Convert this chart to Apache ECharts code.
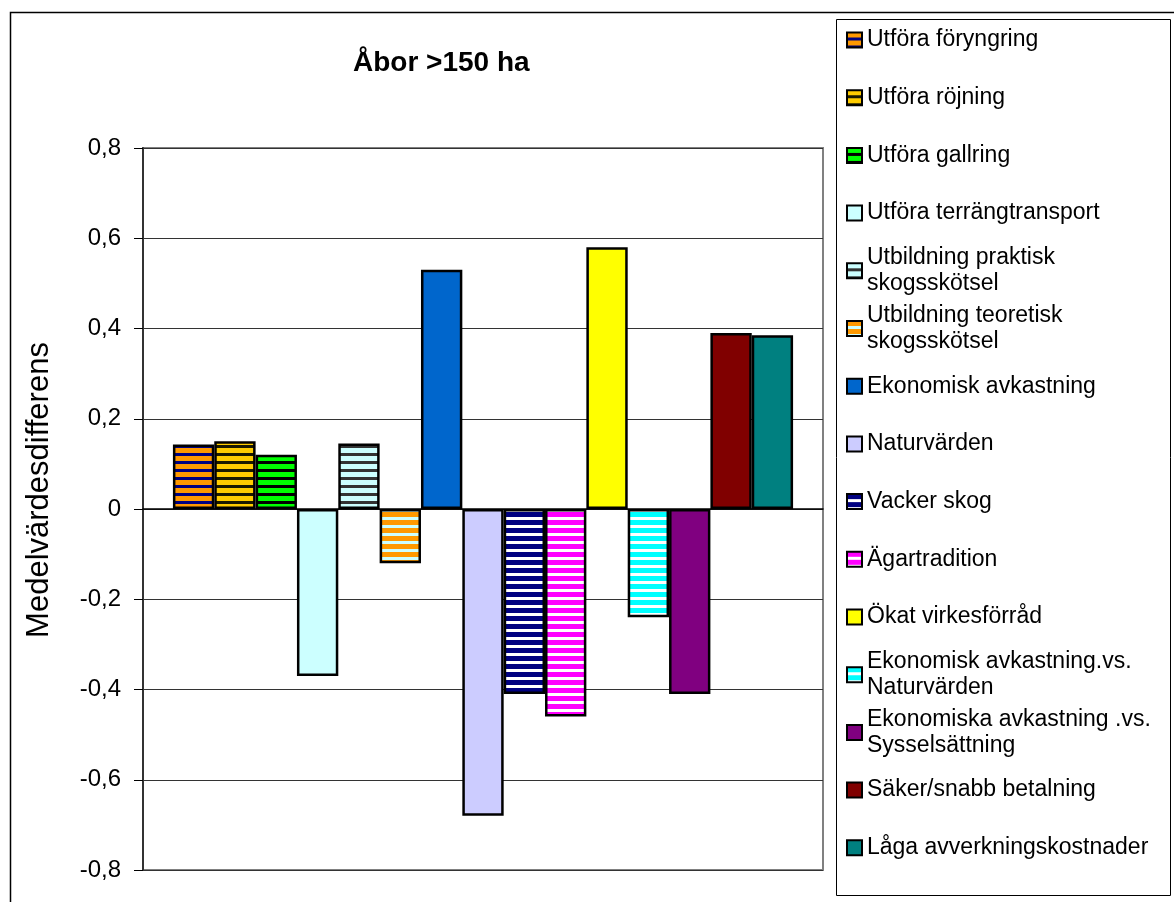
<!DOCTYPE html>
<html>
<head>
<meta charset="utf-8">
<script src="https://cdn.jsdelivr.net/npm/echarts@6/dist/echarts.min.js"></script>
<style>
  html, body { margin: 0; padding: 0; background: #fff; }
  #chart { width: 1174px; height: 902px; }
</style>
</head>
<body>
<div id="chart"></div>
<script>
// data
var categories = [''];
var seriesNames = [
  'Utföra föryngring', 'Utföra röjning', 'Utföra gallring', 'Utföra terrängtransport',
  'Utbildning praktisk\nskogsskötsel', 'Utbildning teoretisk\nskogsskötsel',
  'Ekonomisk avkastning', 'Naturvärden', 'Vacker skog', 'Ägartradition',
  'Ökat virkesförråd', 'Ekonomisk avkastning.vs.\nNaturvärden',
  'Ekonomiska avkastning .vs.\nSysselsättning', 'Säker/snabb betalning',
  'Låga avverkningskostnader'
];
var seriesValues = [0.143, 0.15, 0.12, -0.37, 0.145, -0.12, 0.53, -0.68, -0.41, -0.46, 0.58, -0.24, -0.41, 0.39, 0.385];
var yTicks = [-0.8, -0.6, -0.4, -0.2, 0, 0.2, 0.4, 0.6, 0.8];

// fills: plain colour or [stripe colour, stripe colour]
var fills = [
  ['#FF9900', '#000080'], ['#FFCC00', '#1a1a00'], ['#00FF00', '#000000'], '#CCFFFF',
  ['#CCFFFF', '#333333'], ['#FF9900', '#CCFFFF'], '#0066CC', '#CCCCFF',
  ['#000080', '#FFFFFF'], ['#FF00FF', '#FFFFFF'], '#FFFF00', ['#00FFFF', '#FFFFFF'],
  '#800080', '#800000', '#008080'
];

function stripes(c1, c2) {
  var cv = document.createElement('canvas');
  cv.width = 8;
  cv.height = 8;
  var ctx = cv.getContext('2d');
  ctx.fillStyle = c1;
  ctx.fillRect(0, 0, 8, 5);
  ctx.fillStyle = c2;
  ctx.fillRect(0, 5, 8, 3);
  return { image: cv, repeat: 'repeat' };
}

function fmt(v) {
  if (Math.abs(v) < 1e-9) return '0';
  return v.toFixed(1).replace('.', ',');
}

var chart = echarts.init(document.getElementById('chart'));

var series = seriesNames.map(function (name, i) {
  var f = fills[i];
  return {
    name: name,
    type: 'bar',
    data: [seriesValues[i]],
    barGap: '0%',
    barCategoryGap: '8.8%',
    itemStyle: {
      color: Array.isArray(f) ? stripes(f[0], f[1]) : f,
      borderColor: '#000',
      borderWidth: 2.5
    },
    emphasis: { disabled: true }
  };
});

// every legend item gets the same box height so the first lines stay evenly spaced
var legendData = seriesNames.map(function (name) {
  var twoLines = name.indexOf('\n') >= 0;
  return {
    name: name,
    textStyle: {
      padding: twoLines ? [26, 0, 0, 0] : [26, 0, 26, 0],
      backgroundColor: 'rgba(255,255,255,0)'
    }
  };
});

chart.setOption({
  animation: false,
  textStyle: { fontFamily: 'Liberation Sans, Arial, sans-serif', color: '#000' },
  title: {
    text: 'Åbor >150 ha',
    left: 348,
    top: 44,
    textStyle: { fontSize: 28, fontWeight: 'bold', color: '#000', fontFamily: 'Liberation Sans, Arial, sans-serif' }
  },
  legend: {
    orient: 'vertical',
    left: 846,
    top: 1,
    padding: 0,
    itemGap: -20.3,
    icon: 'rect',
    itemWidth: 15,
    itemHeight: 15,
    selectedMode: false,
    data: legendData,
    itemStyle: { borderColor: '#000', borderWidth: 2 },
    textStyle: { fontSize: 23, lineHeight: 26, color: '#000', fontFamily: 'Liberation Sans, Arial, sans-serif' }
  },
  graphic: [
    {
      type: 'rect',
      shape: { x: 10.5, y: 12.5, width: 1200, height: 1000 },
      style: { fill: null, stroke: '#000', lineWidth: 1.5 },
      silent: true
    },
    {
      type: 'rect',
      shape: { x: 836.5, y: 19.5, width: 334, height: 876 },
      style: { fill: null, stroke: '#000', lineWidth: 1 },
      silent: true
    }
  ],
  grid: {
    left: 143,
    right: 351,
    top: 148,
    bottom: 32,
    show: true,
    borderColor: '#808080',
    borderWidth: 2,
    containLabel: false
  },
  xAxis: {
    type: 'category',
    data: categories,
    axisLine: { show: true, onZero: true, lineStyle: { color: '#000', width: 1.5 } },
    axisTick: { show: false },
    axisLabel: { show: false },
    splitLine: { show: false }
  },
  yAxis: {
    type: 'value',
    min: yTicks[0],
    max: yTicks[yTicks.length - 1],
    interval: 0.2,
    name: 'Medelvärdesdifferens',
    nameLocation: 'middle',
    nameGap: 88,
    nameTextStyle: {
      fontSize: 31,
      color: '#000',
      padding: [0, 0, 0, 38],
      fontFamily: 'Liberation Sans, Arial, sans-serif'
    },
    axisLine: { show: true, lineStyle: { color: '#333', width: 2 } },
    axisTick: { show: true, length: 9, lineStyle: { color: '#000' } },
    axisLabel: {
      fontSize: 24,
      color: '#000',
      margin: 22,
      formatter: fmt
    },
    splitLine: { show: true, lineStyle: { color: '#333', width: 1 } }
  },
  series: series
});
</script>
</body>
</html>
